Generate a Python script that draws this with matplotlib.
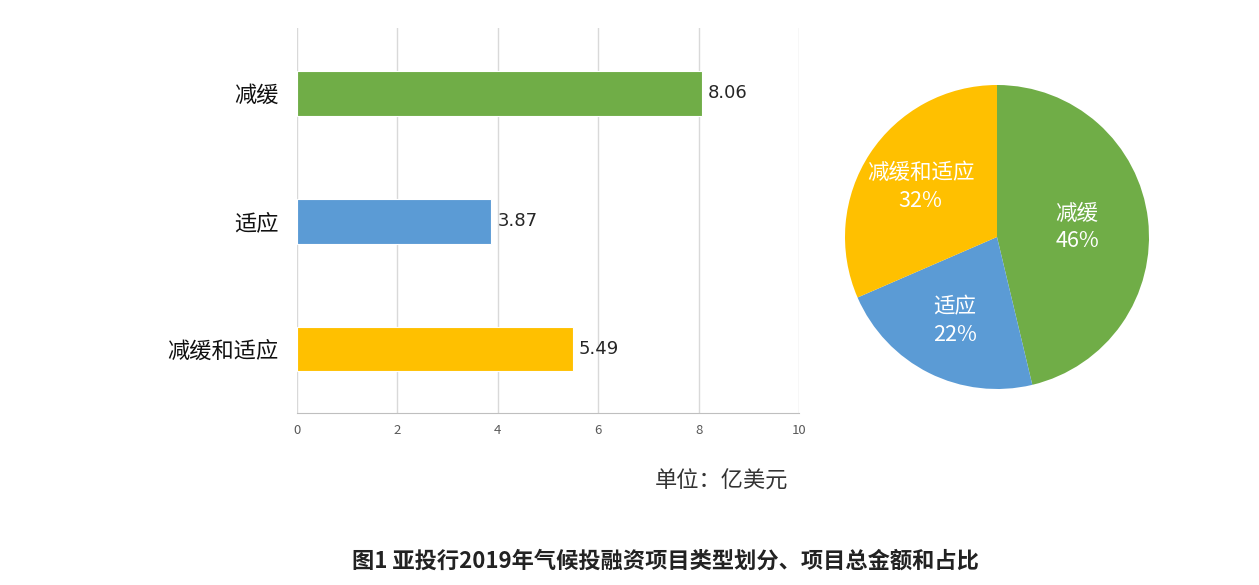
import matplotlib

matplotlib.use("Agg")
import numpy as np  # noqa: E402
import matplotlib.pyplot as plt  # noqa: E402

plt.rcParams["font.family"] = ["Noto Sans CJK SC", "DejaVu Sans"]

categories = ["减缓", "适应", "减缓和适应"]
amounts = [8.06, 3.87, 5.49]
xticks = [0, 2, 4, 6, 8, 10]
colors = ["#70AD47", "#5B9BD5", "#FFC000"]
unit_text = "单位：亿美元"
caption = "图1 亚投行2019年气候投融资项目类型划分、项目总金额和占比"

W, H = 1259, 585
fig = plt.figure(figsize=(W / 100, H / 100), dpi=100)

# bar chart
ax = fig.add_axes([297 / W, 1 - 413 / H, 502 / W, 385 / H])
ypos = list(range(len(categories)))
ax.barh(ypos, amounts, height=0.35, color=colors, edgecolor="white", linewidth=0.8, zorder=3)
for y, v in zip(ypos, amounts):
    ax.text(v + 0.12, y, f"{v:.2f}", va="center", ha="left", fontsize=13,
            color="#262626", family="DejaVu Sans")
ax.set_xlim(0, 10)
ax.set_ylim(2.5, -0.51)
ax.set_xticks(xticks)
ax.set_xticklabels([str(t) for t in xticks], fontsize=9.5, color="#595959")
ax.set_yticks(ypos)
ax.set_yticklabels(categories, fontsize=16, color="#111111")
ax.tick_params(axis="both", length=0, pad=8)
ax.tick_params(axis="y", pad=13)
ax.grid(axis="x", color="#d9d9d9", linewidth=1.0, zorder=0)
for side in ("top", "right", "left"):
    ax.spines[side].set_visible(False)
ax.spines["bottom"].set_color("#bfbfbf")

# pie chart
total = sum(amounts)
pax = fig.add_axes([(997 - 152) / W, 1 - (237 + 152) / H, 304 / W, 304 / H])
pax.pie(amounts, colors=colors, startangle=90, counterclock=False,
        radius=1.0, wedgeprops=dict(linewidth=0))
angle = 90.0
dists = [0.53, 0.62, 0.6]
for v, name, d in zip(amounts, categories, dists):
    span = v / total * 360
    mid = np.deg2rad(angle - span / 2)
    angle -= span
    pax.text(d * np.cos(mid), d * np.sin(mid), f"{name}\n{v / total * 100:.0f}%",
             ha="center", va="center", color="white", fontsize=15.5, linespacing=1.3)
pax.set_xlim(-1, 1)
pax.set_ylim(-1, 1)
pax.set_aspect("equal")
pax.axis("off")

fig.text(655 / W, 1 - 481 / H, unit_text, ha="left", va="center", fontsize=16, color="#333333")
fig.text(665 / W, 1 - 561 / H, caption, ha="center", va="center", fontsize=16,
         fontweight="bold", color="#222222")

fig.savefig("out.png", dpi=100)
